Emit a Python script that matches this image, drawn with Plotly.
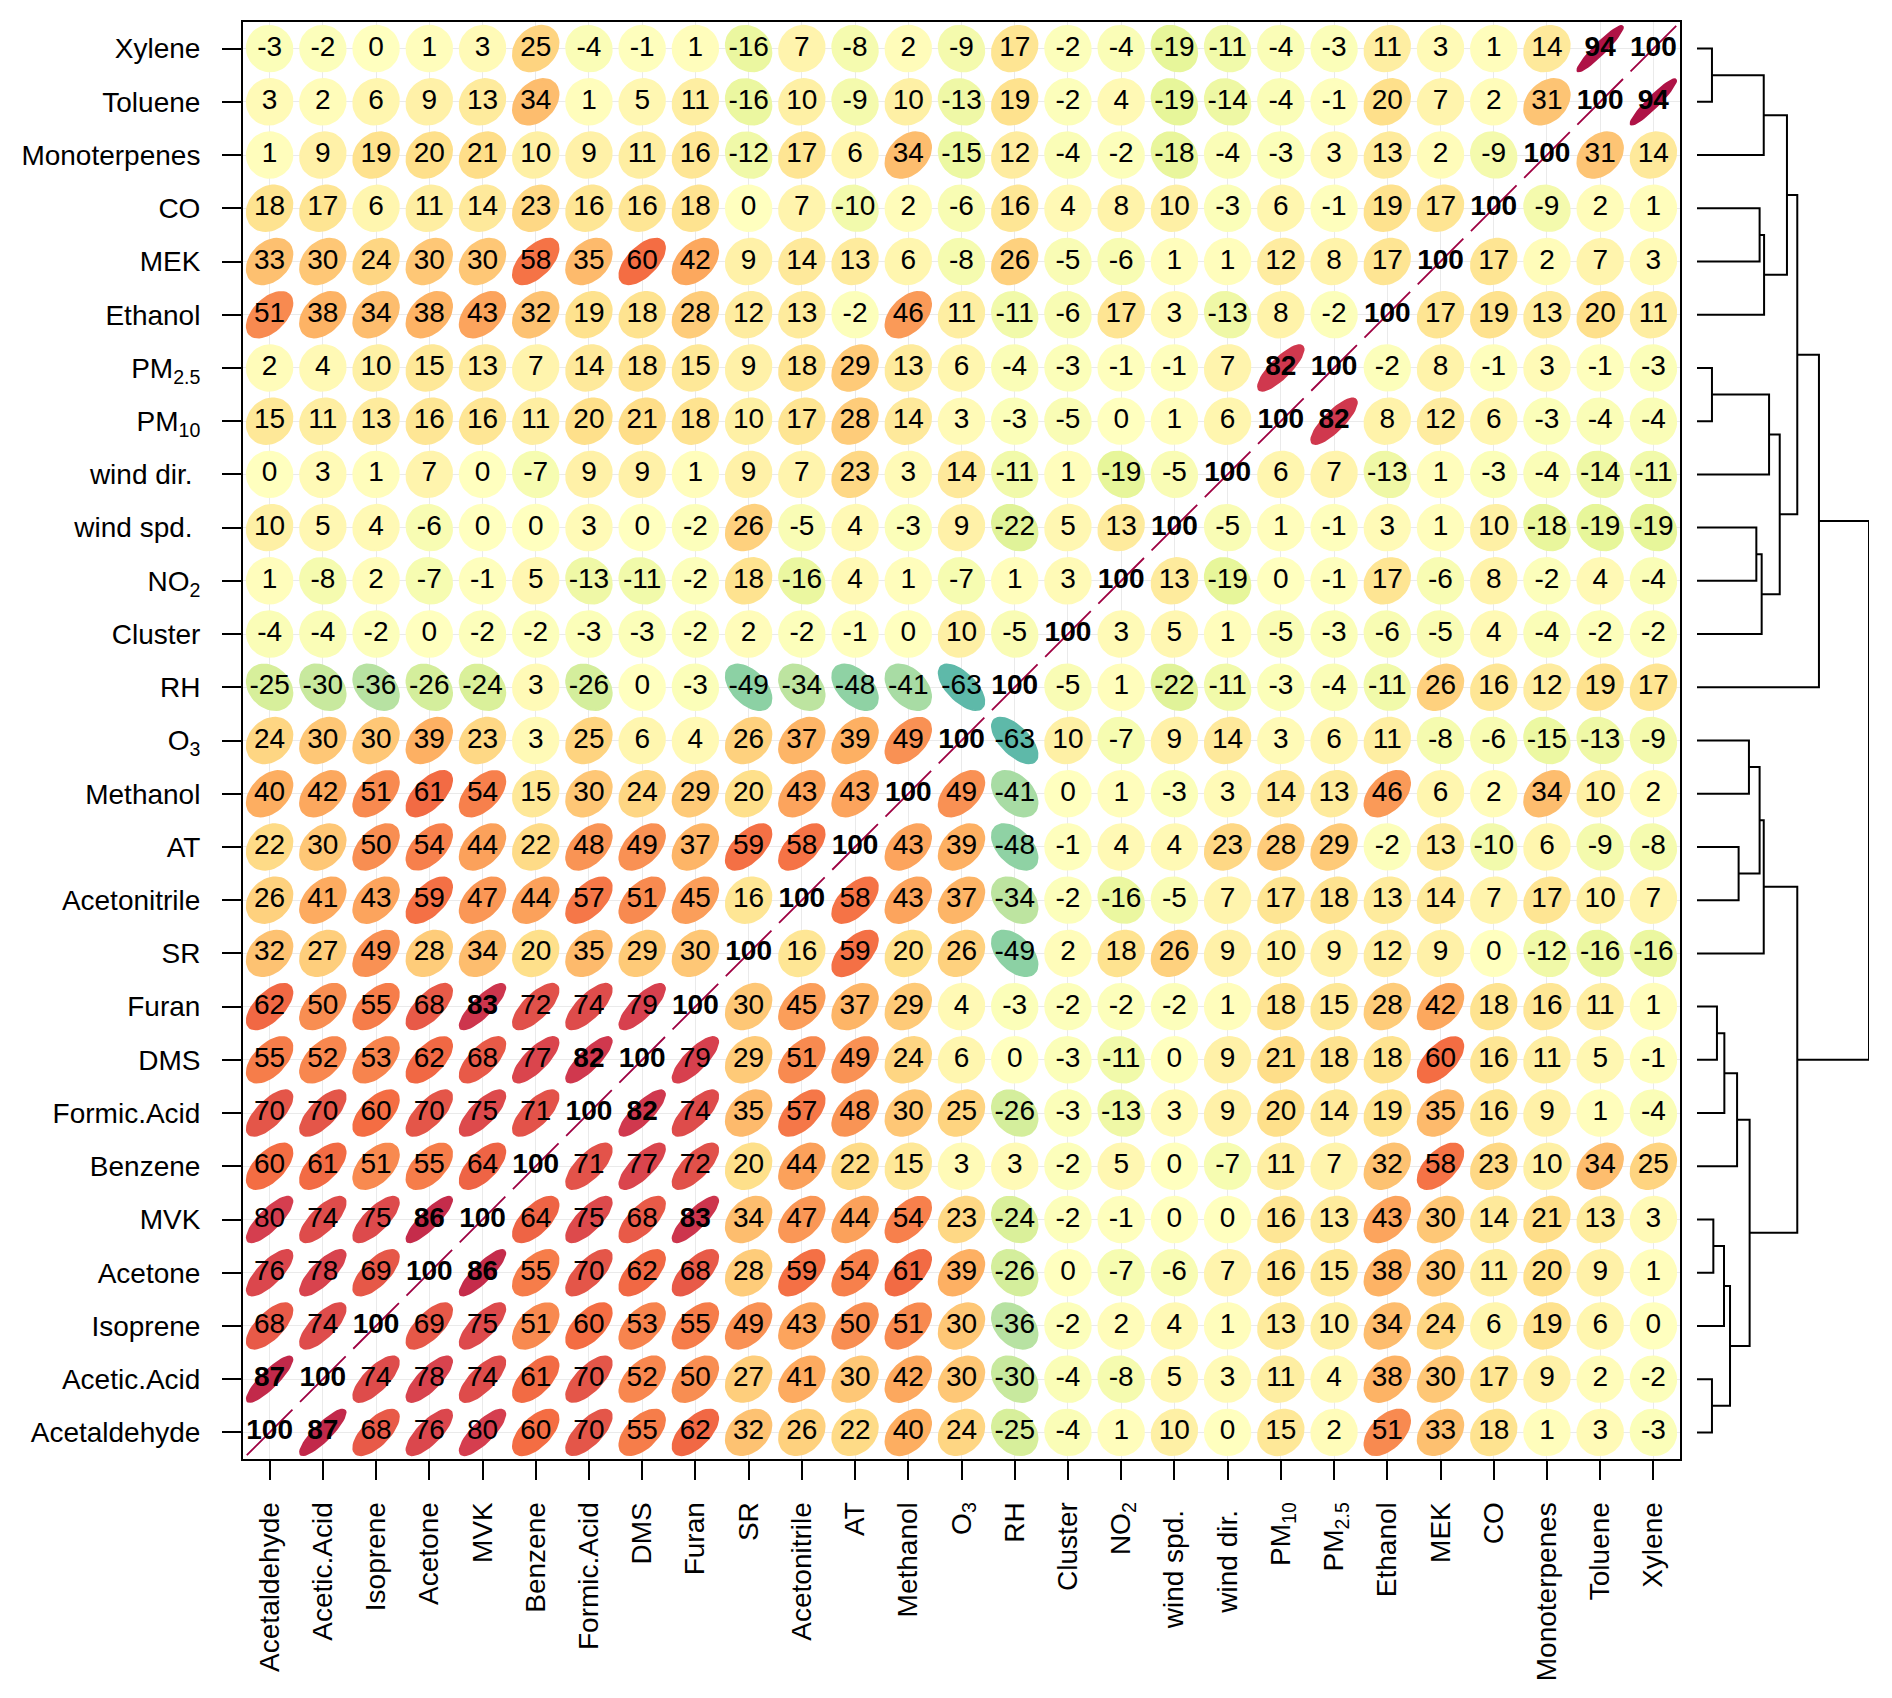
import numpy as np
import plotly.graph_objects as go

# Variables in plot order (x left->right, y bottom->top)
variables = [
    "Acetaldehyde", "Acetic.Acid", "Isoprene", "Acetone", "MVK", "Benzene",
    "Formic.Acid", "DMS", "Furan", "SR", "Acetonitrile", "AT", "Methanol",
    "O<sub>3</sub>", "RH", "Cluster", "NO<sub>2</sub>", "wind spd.\u00a0", "wind dir.\u00a0",
    "PM<sub>10</sub>", "PM<sub>2.5</sub>", "Ethanol", "MEK", "CO", "Monoterpenes",
    "Toluene", "Xylene",
]

# Correlations (x100), one row per variable, columns in the same order
acetaldehyde = [100, 87, 68, 76, 80, 60, 70, 55, 62, 32, 26, 22, 40, 24, -25, -4, 1, 10, 0, 15, 2, 51, 33, 18, 1, 3, -3]
acetic_acid = [87, 100, 74, 78, 74, 61, 70, 52, 50, 27, 41, 30, 42, 30, -30, -4, -8, 5, 3, 11, 4, 38, 30, 17, 9, 2, -2]
isoprene = [68, 74, 100, 69, 75, 51, 60, 53, 55, 49, 43, 50, 51, 30, -36, -2, 2, 4, 1, 13, 10, 34, 24, 6, 19, 6, 0]
acetone = [76, 78, 69, 100, 86, 55, 70, 62, 68, 28, 59, 54, 61, 39, -26, 0, -7, -6, 7, 16, 15, 38, 30, 11, 20, 9, 1]
mvk = [80, 74, 75, 86, 100, 64, 75, 68, 83, 34, 47, 44, 54, 23, -24, -2, -1, 0, 0, 16, 13, 43, 30, 14, 21, 13, 3]
benzene = [60, 61, 51, 55, 64, 100, 71, 77, 72, 20, 44, 22, 15, 3, 3, -2, 5, 0, -7, 11, 7, 32, 58, 23, 10, 34, 25]
formic_acid = [70, 70, 60, 70, 75, 71, 100, 82, 74, 35, 57, 48, 30, 25, -26, -3, -13, 3, 9, 20, 14, 19, 35, 16, 9, 1, -4]
dms = [55, 52, 53, 62, 68, 77, 82, 100, 79, 29, 51, 49, 24, 6, 0, -3, -11, 0, 9, 21, 18, 18, 60, 16, 11, 5, -1]
furan = [62, 50, 55, 68, 83, 72, 74, 79, 100, 30, 45, 37, 29, 4, -3, -2, -2, -2, 1, 18, 15, 28, 42, 18, 16, 11, 1]
sr = [32, 27, 49, 28, 34, 20, 35, 29, 30, 100, 16, 59, 20, 26, -49, 2, 18, 26, 9, 10, 9, 12, 9, 0, -12, -16, -16]
acetonitrile = [26, 41, 43, 59, 47, 44, 57, 51, 45, 16, 100, 58, 43, 37, -34, -2, -16, -5, 7, 17, 18, 13, 14, 7, 17, 10, 7]
at = [22, 30, 50, 54, 44, 22, 48, 49, 37, 59, 58, 100, 43, 39, -48, -1, 4, 4, 23, 28, 29, -2, 13, -10, 6, -9, -8]
methanol = [40, 42, 51, 61, 54, 15, 30, 24, 29, 20, 43, 43, 100, 49, -41, 0, 1, -3, 3, 14, 13, 46, 6, 2, 34, 10, 2]
o3 = [24, 30, 30, 39, 23, 3, 25, 6, 4, 26, 37, 39, 49, 100, -63, 10, -7, 9, 14, 3, 6, 11, -8, -6, -15, -13, -9]
rh = [-25, -30, -36, -26, -24, 3, -26, 0, -3, -49, -34, -48, -41, -63, 100, -5, 1, -22, -11, -3, -4, -11, 26, 16, 12, 19, 17]
cluster = [-4, -4, -2, 0, -2, -2, -3, -3, -2, 2, -2, -1, 0, 10, -5, 100, 3, 5, 1, -5, -3, -6, -5, 4, -4, -2, -2]
no2 = [1, -8, 2, -7, -1, 5, -13, -11, -2, 18, -16, 4, 1, -7, 1, 3, 100, 13, -19, 0, -1, 17, -6, 8, -2, 4, -4]
wind_spd = [10, 5, 4, -6, 0, 0, 3, 0, -2, 26, -5, 4, -3, 9, -22, 5, 13, 100, -5, 1, -1, 3, 1, 10, -18, -19, -19]
wind_dir = [0, 3, 1, 7, 0, -7, 9, 9, 1, 9, 7, 23, 3, 14, -11, 1, -19, -5, 100, 6, 7, -13, 1, -3, -4, -14, -11]
pm10 = [15, 11, 13, 16, 16, 11, 20, 21, 18, 10, 17, 28, 14, 3, -3, -5, 0, 1, 6, 100, 82, 8, 12, 6, -3, -4, -4]
pm25 = [2, 4, 10, 15, 13, 7, 14, 18, 15, 9, 18, 29, 13, 6, -4, -3, -1, -1, 7, 82, 100, -2, 8, -1, 3, -1, -3]
ethanol = [51, 38, 34, 38, 43, 32, 19, 18, 28, 12, 13, -2, 46, 11, -11, -6, 17, 3, -13, 8, -2, 100, 17, 19, 13, 20, 11]
mek = [33, 30, 24, 30, 30, 58, 35, 60, 42, 9, 14, 13, 6, -8, 26, -5, -6, 1, 1, 12, 8, 17, 100, 17, 2, 7, 3]
co = [18, 17, 6, 11, 14, 23, 16, 16, 18, 0, 7, -10, 2, -6, 16, 4, 8, 10, -3, 6, -1, 19, 17, 100, -9, 2, 1]
monoterpenes = [1, 9, 19, 20, 21, 10, 9, 11, 16, -12, 17, 6, 34, -15, 12, -4, -2, -18, -4, -3, 3, 13, 2, -9, 100, 31, 14]
toluene = [3, 2, 6, 9, 13, 34, 1, 5, 11, -16, 10, -9, 10, -13, 19, -2, 4, -19, -14, -4, -1, 20, 7, 2, 31, 100, 94]
xylene = [-3, -2, 0, 1, 3, 25, -4, -1, 1, -16, 7, -8, 2, -9, 17, -2, -4, -19, -11, -4, -3, 11, 3, 1, 14, 94, 100]

rows = [acetaldehyde, acetic_acid, isoprene, acetone, mvk, benzene, formic_acid, dms, furan,
        sr, acetonitrile, at, methanol, o3, rh, cluster, no2, wind_spd, wind_dir, pm10, pm25,
        ethanol, mek, co, monoterpenes, toluene, xylene]

# Dendrogram, hclust style: negative = leaf (1-based index into variables),
# positive = earlier merge step; heights (root = 1)
merge_a = [-1, -26, -20, -4, -8, -3, -7, 1, -6, -11, -13, 8, -17, -23, 10, -16, -22, -25, -10, -19, 16, 17, 12, 21, -15, 23]
merge_b = [-2, -27, -21, -5, -9, 4, 5, 6, 7, -12, -14, 9, -18, -24, 11, 13, 14, 2, 15, 3, 20, 18, 19, 22, 24, 25]
merge_h = [0.087, 0.087, 0.087, 0.095, 0.116, 0.157, 0.159, 0.192, 0.233, 0.242, 0.302, 0.306, 0.345,
           0.364, 0.364, 0.376, 0.390, 0.388, 0.388, 0.419, 0.481, 0.523, 0.583, 0.583, 0.709, 1.0]

# reversed brewer Spectral, -1 -> +1
spectral = ["#5E4FA2", "#3288BD", "#66C2A5", "#ABDDA4", "#E6F598", "#FFFFBF",
            "#FEE08B", "#FDAE61", "#F46D43", "#D53E4F", "#9E0142"]

FONT = "Liberation Sans, Arial, sans-serif"


def col_for(r):
    rgb = np.array([[int(c[i:i + 2], 16) for i in (1, 3, 5)] for c in spectral], float)
    pos = (np.clip(r, -1, 1) + 1) / 2 * (len(spectral) - 1)
    i = min(int(np.floor(pos)), len(spectral) - 2)
    f = pos - i
    c = rgb[i] * (1 - f) + rgb[i + 1] * f
    return "rgb(%d,%d,%d)" % tuple(np.round(c))


# ellipse as in the 'ellipse' package: level 0.9, scale 0.2
T = np.sqrt(-2 * np.log(1 - 0.9))
ANG = np.linspace(0, 2 * np.pi, 50)


def ellipse(r, cx, cy):
    d = np.arccos(np.clip(r, -1, 1))
    return cx + T * 0.2 * np.cos(ANG + d / 2), cy + T * 0.2 * np.cos(ANG - d / 2)


n = len(variables)
fig = go.Figure()

# ellipses, grouped by value so each group is one trace
groups = {}
for i in range(n):          # row -> y
    for j in range(n):      # col -> x
        groups.setdefault(rows[i][j], []).append((j + 1, i + 1))

for v in sorted(groups):
    xs, ys = [], []
    for cx, cy in groups[v]:
        ex, ey = ellipse(v / 100, cx, cy)
        xs += list(ex) + [None]
        ys += list(ey) + [None]
    c = col_for(v / 100)
    fig.add_trace(go.Scatter(
        x=xs, y=ys, mode="lines", fill="toself", fillcolor=c,
        line=dict(color=c, width=1.8), hoverinfo="skip", showlegend=False,
    ))

# numbers, bold when > 0.8
tx, ty, tt, bx, by, bt = [], [], [], [], [], []
for i in range(n):
    for j in range(n):
        v = rows[i][j]
        if v > 80:
            bx.append(j + 1); by.append(i + 1); bt.append("<b>%d</b>" % v)
        else:
            tx.append(j + 1); ty.append(i + 1); tt.append(str(v))
for x_, y_, t_ in [(tx, ty, tt), (bx, by, bt)]:
    fig.add_trace(go.Scatter(x=x_, y=y_, text=t_, mode="text", textposition="middle center",
                             textfont=dict(family=FONT, size=28, color="black"),
                             hoverinfo="skip", showlegend=False))

# dendrogram (elbow style, node at the midpoint of its children)
node_pos = {}


def pos_of(k):
    return (0.0, float(-k)) if k < 0 else node_pos[k]


dx, dy = [], []
for step, (a, b, h) in enumerate(zip(merge_a, merge_b, merge_h), start=1):
    ha, ya = pos_of(a)
    hb, yb = pos_of(b)
    dx += [ha, h, h, hb, None]
    dy += [ya, ya, yb, yb, None]
    node_pos[step] = (h, (ya + yb) / 2)

fig.add_trace(go.Scatter(x=dx, y=dy, mode="lines", xaxis="x2", yaxis="y2",
                         line=dict(color="black", width=2),
                         hoverinfo="skip", showlegend=False))

W, H = 1892, 1698
y_dom = [1 - 1459 / H, 1 - 22 / H]
axis_common = dict(
    tickmode="array", tickvals=list(range(1, n + 1)), ticktext=variables,
    range=[0.5, n + 0.5], showgrid=True, gridcolor="#EAEAEA", gridwidth=1,
    zeroline=False, showline=True, mirror=True, linecolor="black", linewidth=2,
    ticks="outside", ticklen=19, tickwidth=2, tickcolor="black",
    tickfont=dict(family=FONT, size=28, color="black"),
)
fig.update_layout(
    width=W, height=H,
    margin=dict(l=0, r=0, t=0, b=0),
    paper_bgcolor="white", plot_bgcolor="white",
    xaxis=dict(domain=[243 / W, 1680 / W], tickangle=-90, ticklabelstandoff=11, **axis_common),
    yaxis=dict(domain=y_dom, ticklabelstandoff=16, **axis_common),
    xaxis2=dict(domain=[1697 / W, 1869 / W], range=[0, 1], anchor="y2",
                visible=False, fixedrange=True),
    yaxis2=dict(domain=y_dom, range=[0.5, n + 0.5], anchor="x2",
                visible=False, fixedrange=True),
)

fig.write_html("out.html", config={"displayModeBar": False},
               post_script="document.body.style.margin='0px';")
